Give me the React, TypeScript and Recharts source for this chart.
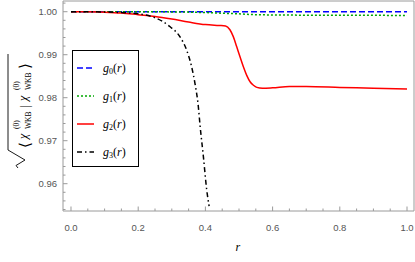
import React from 'react';
import { LineChart, Line, XAxis, YAxis, Legend } from 'recharts';

// ticks
const xTicks = [0, 0.05, 0.1, 0.15, 0.2, 0.25, 0.3, 0.35, 0.4, 0.45, 0.5, 0.55, 0.6, 0.65, 0.7, 0.75, 0.8, 0.85, 0.9, 0.95, 1];
const xLabels = [0, 0.2, 0.4, 0.6, 0.8, 1];
const yTicks = [0.954, 0.956, 0.958, 0.96, 0.962, 0.964, 0.966, 0.968, 0.97, 0.972, 0.974, 0.976, 0.978, 0.98, 0.982, 0.984, 0.986, 0.988, 0.99, 0.992, 0.994, 0.996, 0.998, 1.0, 1.002];
const yLabels = [0.96, 0.97, 0.98, 0.99, 1.0];

// series
const g0R = [0, 0.5, 1];
const g0V = [1.0, 1.0, 0.99998];

const g1R = [0, 0.2, 0.3, 0.35, 0.4, 0.45, 0.5, 0.55, 0.6, 0.7, 0.8, 1.0];
const g1V = [1.0, 1.0, 0.99995, 0.9999, 0.9998, 0.99965, 0.9995, 0.9993, 0.99925, 0.9992, 0.9992, 0.9991];

const g2R = [0, 0.05, 0.1, 0.15, 0.2, 0.25, 0.3, 0.35, 0.4, 0.44, 0.46, 0.473, 0.483, 0.493, 0.503, 0.513, 0.523, 0.533, 0.543, 0.553, 0.57, 0.6, 0.65, 0.7, 0.8, 0.9, 1.0];
const g2V = [1.0, 1.0, 0.9999, 0.9997, 0.9993, 0.9989, 0.9983, 0.9976, 0.997, 0.9968, 0.9967, 0.9958, 0.9942, 0.9919, 0.9895, 0.9872, 0.9852, 0.9837, 0.9829, 0.9824, 0.9822, 0.9823, 0.9826, 0.9826, 0.9824, 0.9822, 0.982];

const g3R = [0, 0.1, 0.15, 0.2, 0.25, 0.295, 0.324, 0.344, 0.359, 0.369, 0.379, 0.384, 0.394, 0.404, 0.411];
const g3V = [1.0, 0.99995, 0.9998, 0.9995, 0.9986, 0.9965, 0.9942, 0.9911, 0.9872, 0.9833, 0.9779, 0.9736, 0.9663, 0.9585, 0.9548];

const zip = (rs: number[], vs: number[]) => rs.map((r, i) => ({ r, v: vs[i] }));

const series = [
  { key: 'g0', sub: '0', data: zip(g0R, g0V), color: '#0000ff', dash: '6 3' },
  { key: 'g1', sub: '1', data: zip(g1R, g1V), color: '#00a800', dash: '2 2' },
  { key: 'g2', sub: '2', data: zip(g2R, g2V), color: '#ff0000', dash: undefined },
  { key: 'g3', sub: '3', data: zip(g3R, g3V), color: '#000000', dash: '5 3 1.5 3' },
];

const frame = '#9a9a9a';
const labelColor = '#555';
const sans = '"Liberation Sans", Arial, sans-serif';
const serif = '"Liberation Serif", "DejaVu Serif", serif';

const isMajor = (v: number, majors: number[]) => majors.some((m) => Math.abs(m - v) < 1e-9);

const BottomTick = ({ x, y, payload }: any) => {
  const major = isMajor(payload.value, xLabels);
  return (
    <g>
      <line x1={x} x2={x} y1={y} y2={y - (major ? 4.5 : 2.5)} stroke={frame} />
      {major && (
        <text x={x} y={y + 19.5} textAnchor="middle" fontSize={9.5} fontFamily={sans} fill={labelColor}>
          {payload.value.toFixed(1)}
        </text>
      )}
    </g>
  );
};

const TopTick = ({ x, y, payload }: any) => {
  const major = isMajor(payload.value, xLabels);
  return <line x1={x} x2={x} y1={y} y2={y + (major ? 4.5 : 2.5)} stroke={frame} />;
};

const LeftTick = ({ x, y, payload }: any) => {
  const major = isMajor(payload.value, yLabels);
  return (
    <g>
      <line x1={x} x2={x + (major ? 4.5 : 2.5)} y1={y} y2={y} stroke={frame} />
      {major && (
        <text x={x - 6} y={y + 3.5} textAnchor="end" fontSize={9.5} fontFamily={sans} fill={labelColor}>
          {payload.value.toFixed(2)}
        </text>
      )}
    </g>
  );
};

const RightTick = ({ x, y, payload }: any) => {
  const major = isMajor(payload.value, yLabels);
  return <line x1={x} x2={x - (major ? 4.5 : 2.5)} y1={y} y2={y} stroke={frame} />;
};

const YLabel = () => (
  <g transform="translate(22,111) rotate(-90)" fontFamily={serif} fill="#000">
    <path d="M-57,-4 L-54.5,-6 L-49,3 L-39,-14 L57,-14" fill="none" stroke="#000" strokeWidth={0.9} />
    <text x={-37} y={8} fontSize={15}>⟨</text>
    <text x={-28} y={5} fontSize={12} fontStyle="italic">χ</text>
    <text x={-18} y={-3} fontSize={7.5}>(0)</text>
    <text x={-18} y={8.5} fontSize={7.5}>WKB</text>
    <text x={3} y={7} fontSize={13}>|</text>
    <text x={10} y={5} fontSize={12} fontStyle="italic">χ</text>
    <text x={21} y={-3} fontSize={7.5}>(0)</text>
    <text x={21} y={8.5} fontSize={7.5}>WKB</text>
    <text x={42} y={8} fontSize={15}>⟩</text>
  </g>
);

const XLabel = ({ viewBox }: any) => (
  <text x={viewBox.x + viewBox.width / 2 - 3} y={251} fontSize={12} fontStyle="italic" fontFamily={serif} fill="#000">
    r
  </text>
);

const LegendBox = () => (
  <div
    style={{
      width: 67,
      height: 117,
      boxSizing: 'border-box',
      border: '1px solid #000',
      background: '#fff',
      paddingTop: 3,
      fontFamily: serif,
    }}
  >
    {series.map((s) => (
      <div key={s.key} style={{ height: 28, display: 'flex', alignItems: 'center' }}>
        <svg width={26} height={4} style={{ marginLeft: 4 }}>
          <line x1={0} x2={17} y1={2} y2={2} stroke={s.color} strokeWidth={1.5} strokeDasharray={s.dash} />
        </svg>
        <span style={{ fontSize: 12, color: '#000', whiteSpace: 'nowrap' }}>
          <i>g</i>
          <span style={{ fontSize: 8, verticalAlign: -2 }}>{s.sub}</span>(<i>r</i>)
        </span>
      </div>
    ))}
  </div>
);

export default function App() {
  return (
    <div style={{ position: 'absolute', left: 0, top: 0, background: '#fff' }}>
      <LineChart width={415} height={262} margin={{ top: 0, right: 0, left: 0, bottom: 0 }}>
        <XAxis
          xAxisId="bottom"
          type="number"
          dataKey="r"
          domain={[-0.0238, 1.0208]}
          ticks={xTicks}
          interval={0}
          height={51}
          stroke={frame}
          tickLine={false}
          tickSize={0}
          tickMargin={0}
          tick={<BottomTick />}
          label={<XLabel />}
        />
        <XAxis
          xAxisId="top"
          orientation="top"
          type="number"
          dataKey="r"
          domain={[-0.0238, 1.0208]}
          ticks={xTicks}
          interval={0}
          height={1}
          stroke={frame}
          tickLine={false}
          tickSize={0}
          tickMargin={0}
          tick={<TopTick />}
        />
        <YAxis
          yAxisId="left"
          type="number"
          domain={[0.95365, 1.00249]}
          ticks={yTicks}
          interval={0}
          width={63}
          stroke={frame}
          tickLine={false}
          tickSize={0}
          tickMargin={0}
          tick={<LeftTick />}
          label={<YLabel />}
        />
        <YAxis
          yAxisId="right"
          orientation="right"
          type="number"
          domain={[0.95365, 1.00249]}
          ticks={yTicks}
          interval={0}
          width={1}
          stroke={frame}
          tickLine={false}
          tickSize={0}
          tickMargin={0}
          tick={<RightTick />}
        />
        <Legend
          layout="vertical"
          align="center"
          verticalAlign="middle"
          content={<LegendBox />}
          wrapperStyle={{ left: 72, top: 50, width: 67, height: 117 }}
        />
        {series.map((s) => (
          <Line
            key={s.key}
            xAxisId="bottom"
            yAxisId="left"
            data={s.data}
            dataKey="v"
            type="monotone"
            stroke={s.color}
            strokeWidth={1.5}
            strokeDasharray={s.dash}
            dot={false}
            activeDot={false}
            isAnimationActive={false}
          />
        ))}
      </LineChart>
    </div>
  );
}
